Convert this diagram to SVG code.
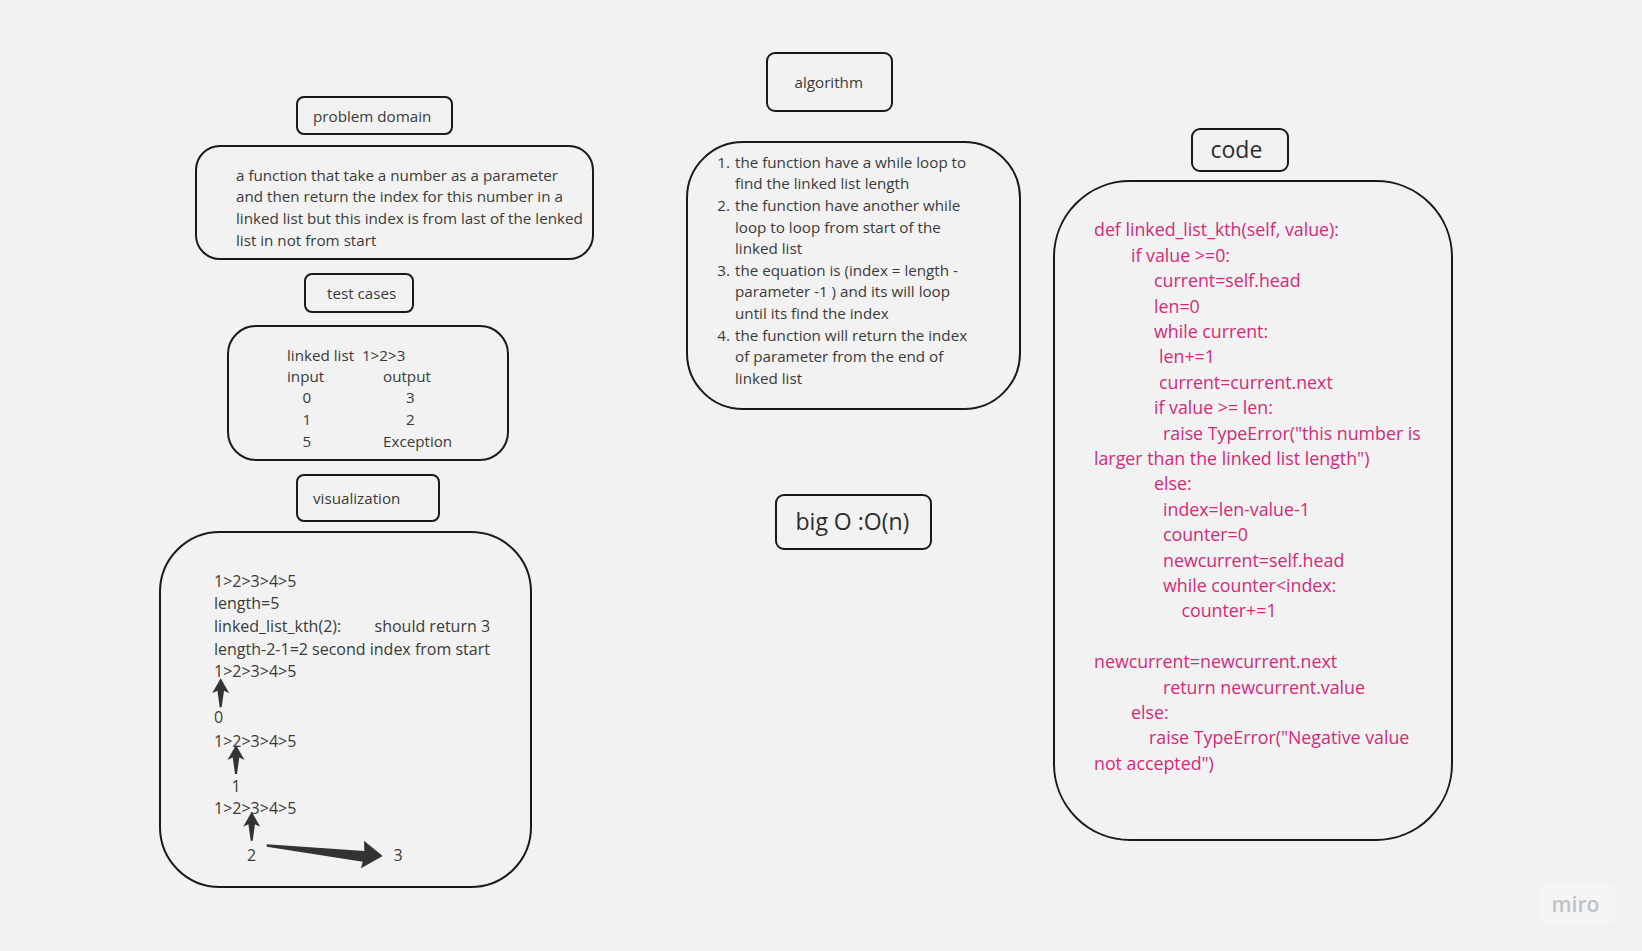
<svg xmlns="http://www.w3.org/2000/svg" width="1642" height="951" viewBox="0 0 1642 951">
<style>
.box{fill:none;stroke:#1a1a1a;stroke-width:2}
.t{font-family:"Open Sans","Liberation Sans",sans-serif;font-size:15.2px;fill:#3a3a3a;white-space:pre}
.v{font-family:"Open Sans","Liberation Sans",sans-serif;font-size:16px;fill:#3a3a3a;white-space:pre}
.h{font-family:"Open Sans","Liberation Sans",sans-serif;font-size:23px;fill:#2e2e2e}
.c{font-family:"Open Sans","Liberation Sans",sans-serif;font-size:17.8px;fill:#d6297a}
.arr{fill:#333333}
</style>
<defs>
<polygon id="uparrow" points="0,0 8.5,15 3.3,12.5 1,29 -1,29 -3.3,12.5 -8.5,15"/>
</defs>
<rect width="1642" height="951" fill="#f2f2f2"/>

<g id="problem-domain-label">
<rect class="box" x="297" y="97" width="155" height="37" rx="7"/>
<text class="t" x="313" y="121.5">problem domain</text>
</g>
<g id="problem-domain">
<rect class="box" x="196" y="146" width="397" height="113" rx="24"/>
<text class="t" x="236" y="180.7">a function that take a number as a parameter</text>
<text class="t" x="236" y="202.3">and then return the index for this number in a</text>
<text class="t" x="236" y="224">linked list but this index is from last of the lenked</text>
<text class="t" x="236" y="245.6">list in not from start</text>
</g>

<g id="test-cases-label">
<rect class="box" x="305" y="274" width="108" height="38" rx="7"/>
<text class="t" x="327" y="299">test cases</text>
</g>
<g id="test-cases">
<rect class="box" x="228" y="326" width="280" height="134" rx="28"/>
<text class="t" x="287" y="361" xml:space="preserve">linked list  1&gt;2&gt;3</text>
<text class="t" x="287" y="382">input</text>
<text class="t" x="383" y="382">output</text>
<text class="t" x="302.5" y="403.3">0</text>
<text class="t" x="406" y="403.3">3</text>
<text class="t" x="302.5" y="425">1</text>
<text class="t" x="406" y="425">2</text>
<text class="t" x="302.5" y="446.6">5</text>
<text class="t" x="383" y="446.6">Exception</text>
</g>

<g id="visualization-label">
<rect class="box" x="297" y="475" width="142" height="46" rx="7"/>
<text class="t" x="313" y="504">visualization</text>
</g>
<g id="visualization">
<rect class="box" x="160" y="532" width="371" height="355" rx="60"/>
<text class="v" x="214" y="586.7">1&gt;2&gt;3&gt;4&gt;5</text>
<text class="v" x="214" y="609.3">length=5</text>
<text class="v" x="214" y="632.3">linked_list_kth(2):</text>
<text class="v" x="374.5" y="632.3">should return 3</text>
<text class="v" x="214" y="655">length-2-1=2 second index from start</text>
<text class="v" x="214" y="677.3">1&gt;2&gt;3&gt;4&gt;5</text>
<text class="v" x="214" y="723.3">0</text>
<text class="v" x="214" y="746.7">1&gt;2&gt;3&gt;4&gt;5</text>
<text class="v" x="231.5" y="791.7">1</text>
<text class="v" x="214" y="814.3">1&gt;2&gt;3&gt;4&gt;5</text>
<text class="v" x="247" y="860.7">2</text>
<text class="v" x="393.5" y="860.7">3</text>
</g>

<g id="algorithm-label">
<rect class="box" x="767" y="53" width="125" height="58" rx="8"/>
<text class="t" x="794.5" y="88.3">algorithm</text>
</g>
<g id="algorithm">
<rect class="box" x="687" y="142" width="333" height="267" rx="56"/>
<text class="t" x="717.3" y="167.7">1.</text>
<text class="t" x="735" y="167.7">the function have a while loop to</text>
<text class="t" x="735" y="189.3">find the linked list length</text>
<text class="t" x="717.3" y="210.9">2.</text>
<text class="t" x="735" y="210.9">the function have another while</text>
<text class="t" x="735" y="232.5">loop to loop from start of the</text>
<text class="t" x="735" y="254.1">linked list</text>
<text class="t" x="717.3" y="275.7">3.</text>
<text class="t" x="735" y="275.7">the equation is (index = length -</text>
<text class="t" x="735" y="297.3">parameter -1 ) and its will loop</text>
<text class="t" x="735" y="318.9">until its find the index</text>
<text class="t" x="717.3" y="340.5">4.</text>
<text class="t" x="735" y="340.5">the function will return the index</text>
<text class="t" x="735" y="362.1">of parameter from the end of</text>
<text class="t" x="735" y="383.7">linked list</text>
</g>

<g id="big-o">
<rect class="box" x="776" y="495" width="155" height="54" rx="8"/>
<text class="h" x="795.5" y="530">big O :O(n)</text>
</g>

<g id="code-label">
<rect class="box" x="1192" y="129" width="96" height="42" rx="8"/>
<text class="h" x="1210.5" y="157.7">code</text>
</g>
<g id="code">
<rect class="box" x="1054" y="181" width="398" height="659" rx="76"/>
<text class="c" x="1094" y="236.3">def linked_list_kth(self, value):</text>
<text class="c" x="1131" y="261.7">if value &gt;=0:</text>
<text class="c" x="1154" y="287.1">current=self.head</text>
<text class="c" x="1154" y="312.5">len=0</text>
<text class="c" x="1154" y="337.9">while current:</text>
<text class="c" x="1159" y="363.3">len+=1</text>
<text class="c" x="1159" y="388.7">current=current.next</text>
<text class="c" x="1154" y="414.1">if value &gt;= len:</text>
<text class="c" x="1163" y="439.5">raise TypeError("this number is</text>
<text class="c" x="1094" y="464.9">larger than the linked list length")</text>
<text class="c" x="1154" y="490.3">else:</text>
<text class="c" x="1163" y="515.7">index=len-value-1</text>
<text class="c" x="1163" y="541.1">counter=0</text>
<text class="c" x="1163" y="566.5">newcurrent=self.head</text>
<text class="c" x="1163" y="591.9">while counter&lt;index:</text>
<text class="c" x="1181.5" y="617.3">counter+=1</text>
<text class="c" x="1094" y="668.1">newcurrent=newcurrent.next</text>
<text class="c" x="1163" y="693.5">return newcurrent.value</text>
<text class="c" x="1131" y="718.9">else:</text>
<text class="c" x="1149" y="744.3">raise TypeError("Negative value</text>
<text class="c" x="1094" y="769.7">not accepted")</text>
</g>

<g id="connectors">
<use href="#uparrow" class="arr" x="220.7" y="678.3"/>
<use href="#uparrow" class="arr" x="236" y="745"/>
<use href="#uparrow" class="arr" x="251.7" y="811.7"/>
<polygon class="arr" points="266.7,844.3 364.3,851 364,840.7 382.7,856 361,868.3 362.7,861.7 266.7,846.7"/>
</g>

<g id="watermark">
<rect x="1540" y="885" width="76" height="38" rx="3" fill="#f5f5f5"/>
<text x="1551.5" y="911.5" font-family="'Open Sans','Liberation Sans',sans-serif" font-size="21" font-weight="600" fill="#c1c1c8">miro</text>
</g>
</svg>
